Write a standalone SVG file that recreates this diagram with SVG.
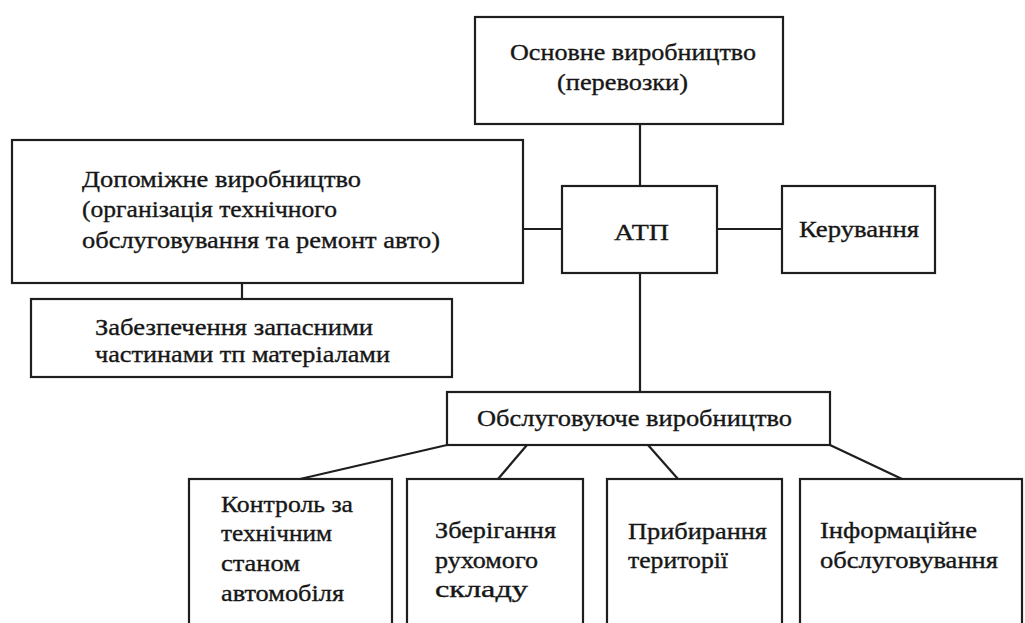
<svg xmlns="http://www.w3.org/2000/svg" width="1025" height="623" viewBox="0 0 1025 623">
<style>
.box{fill:#fff;stroke:#1e1e1e;stroke-width:2.2}
.ln{stroke:#1e1e1e;stroke-width:2.2;fill:none}
text{font-family:"Liberation Serif","DejaVu Serif","Times New Roman",serif;font-size:24px;fill:#161616;stroke:#161616;stroke-width:0.35}
.s{font-size:23px}
</style>
<rect width="1025" height="623" fill="#fff"/>
<g id="connectors">
<line class="ln" x1="640" y1="124" x2="640" y2="186"/>
<line class="ln" x1="523" y1="229" x2="562" y2="229"/>
<line class="ln" x1="717" y1="229" x2="782" y2="229"/>
<line class="ln" x1="640" y1="273" x2="640" y2="392"/>
<line class="ln" x1="242" y1="283" x2="242" y2="299"/>
<line class="ln" x1="447" y1="445" x2="300" y2="479"/>
<line class="ln" x1="527" y1="445" x2="498" y2="479"/>
<line class="ln" x1="648" y1="445" x2="678" y2="479"/>
<line class="ln" x1="830" y1="445" x2="902" y2="479"/>
</g>
<g id="osnovne">
<rect class="box" x="475" y="17" width="308" height="107"/>
<text x="510" y="60" textLength="246" lengthAdjust="spacingAndGlyphs">Основне виробництво</text>
<text x="557" y="90" textLength="131" lengthAdjust="spacingAndGlyphs">(перевозки)</text>
</g>
<g id="dopomizhne">
<rect class="box" x="12" y="140" width="511" height="143"/>
<text x="82" y="187" textLength="279" lengthAdjust="spacingAndGlyphs">Допоміжне виробництво</text>
<text x="82" y="217" textLength="255" lengthAdjust="spacingAndGlyphs">(організація технічного</text>
<text x="82" y="248" textLength="358" lengthAdjust="spacingAndGlyphs">обслуговування та ремонт авто)</text>
</g>
<g id="atp">
<rect class="box" x="562" y="186" width="155" height="87"/>
<text x="614" y="240" textLength="55" lengthAdjust="spacingAndGlyphs">АТП</text>
</g>
<g id="keruvannya">
<rect class="box" x="782" y="186" width="153" height="87"/>
<text x="799" y="237" textLength="120" lengthAdjust="spacingAndGlyphs">Керування</text>
</g>
<g id="zabezpechennya">
<rect class="box" x="31" y="299" width="421" height="78"/>
<text x="95" y="335" textLength="278" lengthAdjust="spacingAndGlyphs">Забезпечення запасними</text>
<text x="95" y="362" textLength="295" lengthAdjust="spacingAndGlyphs">частинами тп матеріалами</text>
</g>
<g id="obslugovuyuche">
<rect class="box" x="447" y="392" width="383" height="53"/>
<text x="477" y="426" textLength="315" lengthAdjust="spacingAndGlyphs">Обслуговуюче виробництво</text>
</g>
<g id="kontrol">
<rect class="box" x="189" y="479" width="203" height="160"/>
<text class="s" x="221" y="512" textLength="132" lengthAdjust="spacingAndGlyphs">Контроль за</text>
<text class="s" x="221" y="541" textLength="111" lengthAdjust="spacingAndGlyphs">технічним</text>
<text class="s" x="221" y="571" textLength="79" lengthAdjust="spacingAndGlyphs">станом</text>
<text class="s" x="221" y="601" textLength="123" lengthAdjust="spacingAndGlyphs">автомобіля</text>
</g>
<g id="zberigannya">
<rect class="box" x="407" y="479" width="176" height="160"/>
<text class="s" x="435" y="538" textLength="121" lengthAdjust="spacingAndGlyphs">Зберігання</text>
<text class="s" x="435" y="568" textLength="103" lengthAdjust="spacingAndGlyphs">рухомого</text>
<text class="s" x="435" y="597" textLength="93" lengthAdjust="spacingAndGlyphs">складу</text>
</g>
<g id="prybyrannya">
<rect class="box" x="607" y="479" width="175" height="160"/>
<text class="s" x="628" y="539" textLength="139" lengthAdjust="spacingAndGlyphs">Прибирання</text>
<text class="s" x="628" y="568" textLength="100" lengthAdjust="spacingAndGlyphs">території</text>
</g>
<g id="informatsiyne">
<rect class="box" x="800" y="479" width="222" height="160"/>
<text class="s" x="820" y="538" textLength="157" lengthAdjust="spacingAndGlyphs">Інформаційне</text>
<text class="s" x="820" y="568" textLength="178" lengthAdjust="spacingAndGlyphs">обслуговування</text>
</g>
</svg>
